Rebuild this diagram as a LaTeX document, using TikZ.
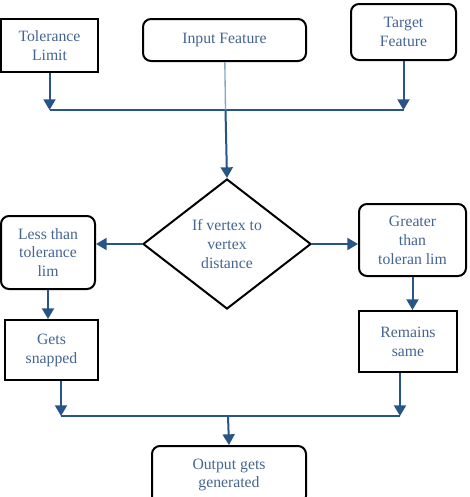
\documentclass[tikz,border=0pt]{standalone}
\usepackage{fontspec}
\setmainfont{Liberation Serif}
\usepackage{tikz}
\usetikzlibrary{shapes.geometric, arrows.meta, positioning}

\definecolor{txtblue}{RGB}{68,100,145}
\definecolor{arrblue}{RGB}{40,85,135}
\definecolor{paleblue}{RGB}{135,165,195}

\begin{document}
\begin{tikzpicture}[
                        x=0.75pt, y=-0.75pt,
                        every node/.style={draw=black, line width=1.5pt, align=center, inner sep=2pt,
                                           text=txtblue, font=\fontsize{11.8}{14.2}\selectfont},
                        box/.style={rectangle},
                        roundbox/.style={rectangle, rounded corners=6pt},
                        decision/.style={diamond, aspect=1.3, inner sep=0pt},
                        arrow/.style={draw=arrblue, line width=1.5pt, -{Triangle[width=9pt, length=8pt]}},
                        joinline/.style={draw=arrblue, line width=1pt}
                        ]

                        \useasboundingbox (0,0) rectangle (469,497);
                        \clip (0,0) rectangle (469,497);

                        % top row
                        \node [box, minimum width=97*0.75pt, minimum height=53*0.75pt] (tol) at (49.5,45.5) {Tolerance\\Limit};
                        \node [roundbox, minimum width=163*0.75pt, minimum height=42*0.75pt] (inp) at (224.5,40) {Input Feature};
                        \node [roundbox, minimum width=105*0.75pt, minimum height=56*0.75pt] (tgt) at (403.5,32) {Target\\Feature};

                        % decision
                        \node [decision, minimum width=168*0.75pt, minimum height=130*0.75pt] (dec) at (227,244) {If vertex to\\vertex\\distance};

                        % branches
                        \node [roundbox, minimum width=94*0.75pt, minimum height=73*0.75pt] (less) at (48,252.5) {Less than\\tolerance\\lim};
                        \node [roundbox, minimum width=107*0.75pt, minimum height=72*0.75pt] (grt) at (412.5,240) {Greater\\than\\toleran lim};
                        \node [box, minimum width=93*0.75pt, minimum height=60*0.75pt] (snap) at (51.5,350) {Gets\\snapped};
                        \node [box, minimum width=98*0.75pt, minimum height=61*0.75pt] (same) at (408,341.5) {Remains\\same};

                        % output
                        \node [roundbox, minimum width=154*0.75pt, minimum height=58*0.75pt] (out) at (229,475) {Output gets\\generated};

                        % join points
                        \coordinate (tl) at (49.5,110);
                        \coordinate (tr) at (403.5,110);
                        \coordinate (tm) at (225.5,110);
                        \coordinate (bl) at (61,416);
                        \coordinate (br) at (400,416);
                        \coordinate (bm) at (228,416);

                        \draw [arrow] (tol) -- (tl);
                        \draw [arrow] (tgt) -- (tr);
                        \draw [joinline] (tl) -- (tr);
                        \draw [draw=paleblue, line width=1pt] (inp) -- (tm);
                        \draw [arrow] (tm) -- (dec.north);

                        \draw [arrow] (dec.west) -- (dec.west -| less.east);
                        \draw [arrow] (dec.east) -- (dec.east -| grt.west);
                        \draw [arrow] (less.south) -- (less.south |- snap.north);
                        \draw [arrow] (grt.south) -- (grt.south |- same.north);

                        \draw [arrow] (bl |- snap.south) -- (bl);
                        \draw [arrow] (br |- same.south) -- (br);
                        \draw [joinline] (bl) -- (br);
                        \draw [arrow] (bm) -- (out.north);
                      \end{tikzpicture}
\end{document}
